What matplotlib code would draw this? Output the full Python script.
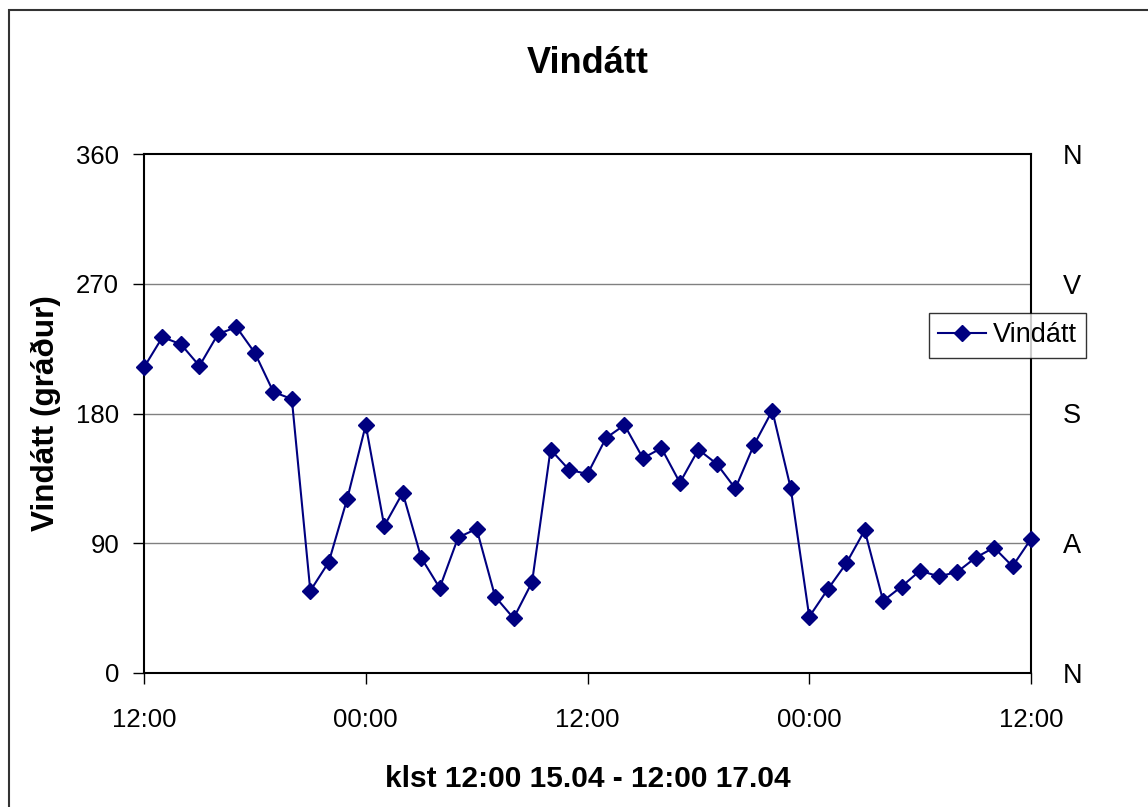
import matplotlib
matplotlib.use("Agg")
import matplotlib.pyplot as plt
from matplotlib.patches import Rectangle

# Data: hourly wind direction, 12:00 15.04 - 12:00 17.04
hours = list(range(49))
direction = [212, 233, 228, 213, 235, 240, 222, 195, 190, 57,
             77, 121, 172, 102, 125, 80, 59, 94, 100, 53,
             38, 63, 155, 141, 138, 163, 172, 149, 156, 132,
             155, 145, 128, 158, 182, 128, 39, 58, 76, 99,
             50, 60, 71, 67, 70, 80, 87, 74, 93]
xtick_pos = [0, 12, 24, 36, 48]
xtick_labels = ["12:00", "00:00", "12:00", "00:00", "12:00"]
ytick_pos = [0, 90, 180, 270, 360]
compass_labels = ["N", "A", "S", "V", "N"]

plt.rcParams['font.family'] = ['Liberation Sans', 'DejaVu Sans']

W, H = 1148, 807
fig = plt.figure(figsize=(W / 100, H / 100), dpi=100)
fig.patch.set_facecolor('white')

# outer chart border
fig.add_artist(Rectangle((9 / W, -0.1), 1.2, (1 - 10 / H) + 0.1,
                         transform=fig.transFigure, fill=False,
                         edgecolor='#333333', linewidth=1.5, clip_on=False))

ax = fig.add_axes([144 / W, 1 - 673 / H, (1031 - 144) / W, (673 - 154) / H])
ax.plot(hours, direction, color='#000080', linewidth=1.5, marker='D',
        markersize=8, markerfacecolor='#000080', markeredgecolor='#000080',
        label='Vindátt', clip_on=False, zorder=3)

ax.set_xlim(0, 48)
ax.set_ylim(0, 360)
ax.set_xticks(xtick_pos)
ax.set_xticklabels(xtick_labels)
ax.set_yticks(ytick_pos)
ax.tick_params(axis='both', direction='out', length=8, width=1, labelsize=18.5,
               colors='black')
ax.tick_params(axis='x', pad=17)
ax.tick_params(axis='y', pad=10)
for y in [90, 180, 270]:
    ax.axhline(y, color='#808080', linewidth=1, zorder=1)
for sp in ax.spines.values():
    sp.set_linewidth(1.5)
    sp.set_color('black')

ax.set_title('Vindátt', fontsize=26, fontweight='bold', pad=58)
ax.set_xlabel('klst 12:00 15.04 - 12:00 17.04', fontsize=21.5,
              fontweight='bold', labelpad=24)
ax.set_ylabel('Vindátt (gráður)', fontsize=22.7, fontweight='bold', labelpad=11)

ax2 = ax.twinx()
ax2.set_ylim(0, 360)
ax2.set_yticks(ytick_pos)
ax2.set_yticklabels(compass_labels)
ax2.tick_params(axis='y', length=0, pad=23, labelsize=19.5)
for sp in ax2.spines.values():
    sp.set_visible(False)

leg = ax.legend(loc='upper left', bbox_to_anchor=(929 / W, 1 - 313 / H),
                bbox_transform=fig.transFigure, fontsize=19.5, frameon=True,
                fancybox=False, shadow=False, handlelength=1.75,
                handletextpad=0.25, borderpad=0.35, borderaxespad=0)
leg.get_frame().set_edgecolor('black')
leg.get_frame().set_linewidth(1)

fig.savefig('out.png', dpi=100, facecolor='white')
